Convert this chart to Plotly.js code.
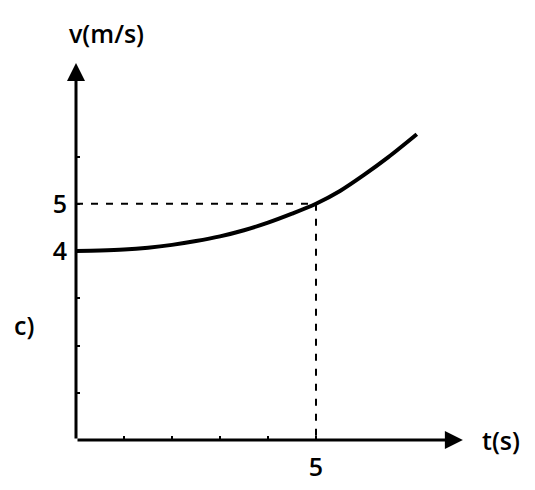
<!DOCTYPE html>
<html>
<head>
<meta charset="utf-8">
<script src="https://cdn.plot.ly/plotly-3.0.1.min.js"></script>
<style>html,body{margin:0;padding:0;background:#fff;}#chart{width:535px;height:490px;}</style>
</head>
<body>
<div id="chart"></div>
<script>
// velocity curve v(t)
var tValues = [0, 0.5, 1.0, 1.5, 2.0, 2.5, 3.0, 3.5, 4.0, 4.5, 5.0, 5.5, 6.0, 6.5, 7.1];
var vValues = [4.0, 4.01, 4.03, 4.07, 4.13, 4.21, 4.31, 4.44, 4.6, 4.79, 5.0, 5.27, 5.61, 5.98, 6.47];
// reference point marked by dashed guides
var markT = 5;
var markV = 5;
// axis ticks
var xTickVals = [1, 2, 3, 4, 5];
var xTickText = ['', '', '', '', '5'];
var yTickVals = [1, 2, 3, 4, 5, 6];
var yTickText = ['', '', '', '4', '5', ''];
var xTitle = 't(s)';
var yTitle = 'v(m/s)';
var panelLabel = 'c)';

var FONT = 'Open Sans, DejaVu Sans, sans-serif';
var F = {family: FONT, size: 25, color: '#000', weight: 600};

var traces = [
  {x: [0, markT, markT], y: [markV, markV, 0], mode: 'lines', type: 'scatter',
   line: {color: '#000', width: 2, dash: '7px,8px'}, hoverinfo: 'skip', showlegend: false},
  {x: tValues, y: vValues, mode: 'lines', type: 'scatter',
   line: {color: '#000', width: 4, shape: 'spline', smoothing: 0.8}, showlegend: false}
];

var layout = {
  width: 535, height: 490,
  margin: {l: 76, r: 51, t: 62, b: 50},
  paper_bgcolor: '#fff', plot_bgcolor: '#fff',
  showlegend: false,
  font: F,
  xaxis: {range: [0, 8.5], showgrid: false, zeroline: false, showline: false,
    tickmode: 'array', tickvals: xTickVals, ticktext: xTickText,
    ticks: 'inside', ticklen: 4, tickwidth: 2, tickcolor: '#000',
    ticklabelstandoff: 10, tickfont: F},
  yaxis: {range: [0, 8], showgrid: false, zeroline: false, showline: false,
    tickmode: 'array', tickvals: yTickVals, ticktext: yTickText,
    ticks: 'inside', ticklen: 4, tickwidth: 2, tickcolor: '#000',
    ticklabelstandoff: 8, tickfont: F},
  annotations: [
    {x: 8.06, y: 0, ax: 0, ay: 0, xref: 'x', yref: 'y', axref: 'x', ayref: 'y',
     text: '', showarrow: true, arrowhead: 2, arrowsize: 1.2, arrowwidth: 3, arrowcolor: '#000', standoff: 0},
    {x: 0, y: 7.98, ax: 0, ay: 0, xref: 'x', yref: 'y', axref: 'x', ayref: 'y',
     text: '', showarrow: true, arrowhead: 2, arrowsize: 1.2, arrowwidth: 3, arrowcolor: '#000', standoff: 0},
    {x: 8.5, y: 0, xref: 'x', yref: 'y', xanchor: 'left', yanchor: 'middle', xshift: -4,
     text: xTitle, showarrow: false, font: F},
    {x: 0, y: 1, xref: 'x', yref: 'paper', xanchor: 'center', yanchor: 'middle', xshift: 30, yshift: 29,
     text: yTitle, showarrow: false, font: F},
    {x: 0, y: 2.43, xref: 'paper', yref: 'y', xanchor: 'center', yanchor: 'middle', xshift: -52,
     text: panelLabel, showarrow: false, font: F}
  ]
};

Plotly.newPlot('chart', traces, layout, {displayModeBar: false, staticPlot: true});
</script>
</body>
</html>
